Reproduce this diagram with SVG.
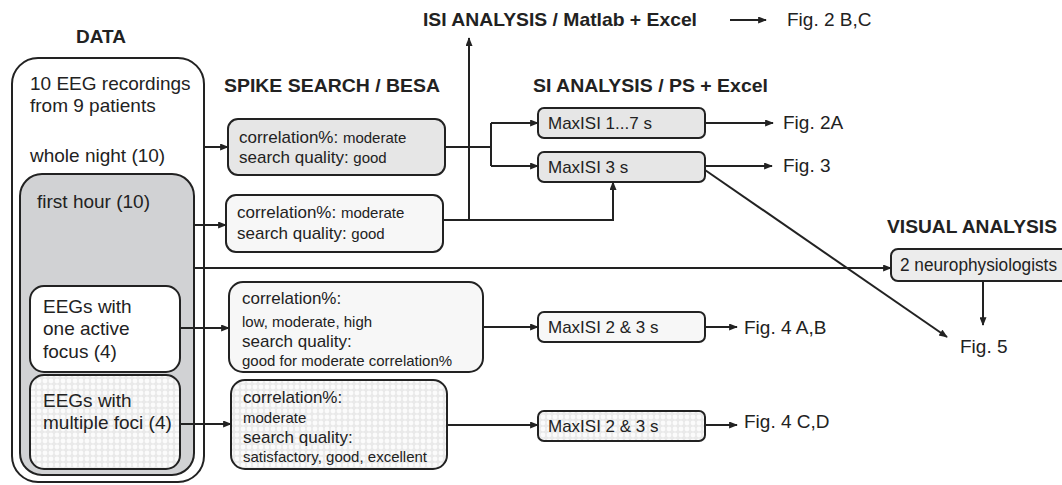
<svg xmlns="http://www.w3.org/2000/svg" width="1062" height="485" viewBox="0 0 1062 485">
<style>
text{font-family:"Liberation Sans",Arial,sans-serif;fill:#222}
.t{font-weight:bold;font-size:19px}
.b{font-size:19px}
.m{font-size:17px}
.s{font-size:15px}
.box{stroke:#222;stroke-width:2}
.ln{fill:none;stroke:#222;stroke-width:2}
.ar{fill:none;stroke:#222;stroke-width:2;marker-end:url(#ah)}
</style>
<defs>
<marker id="ah" viewBox="0 0 10 8" refX="9" refY="4" markerWidth="10" markerHeight="7" markerUnits="userSpaceOnUse" orient="auto"><path d="M0,0L10,4L0,8z" fill="#222"/></marker>
<pattern id="dots" width="6" height="6" patternUnits="userSpaceOnUse"><rect width="6" height="6" fill="#e9e9e9"/><circle cx="3" cy="3" r="2.4" fill="#fbfbfb"/></pattern>
</defs>
<g id="titles">
<text class="t" x="76" y="43" textLength="50" lengthAdjust="spacingAndGlyphs">DATA</text>
<text class="t" x="224" y="92" textLength="216" lengthAdjust="spacingAndGlyphs">SPIKE SEARCH / BESA</text>
<text class="t" x="423" y="26" textLength="274" lengthAdjust="spacingAndGlyphs">ISI ANALYSIS / Matlab + Excel</text>
<text class="t" x="533" y="92" textLength="235" lengthAdjust="spacingAndGlyphs">SI ANALYSIS / PS + Excel</text>
<text class="t" x="887" y="233" textLength="170" lengthAdjust="spacingAndGlyphs">VISUAL ANALYSIS</text>
</g>
<g id="data">
<rect class="box" x="12" y="58" width="192" height="424" rx="26" fill="#fff"/>
<text class="b" x="30" y="90">10 EEG recordings</text>
<text class="b" x="30" y="112">from 9 patients</text>
<text class="b" x="30" y="162">whole night (10)</text>
</g>
<g id="firsthour">
<rect class="box" x="20" y="174" width="174" height="301" rx="22" fill="#d1d2d4"/>
<text class="b" x="37" y="208">first hour (10)</text>
</g>
<g id="onefocus">
<rect class="box" x="30" y="286" width="150" height="86" rx="14" fill="#fff"/>
<text class="b" x="43" y="313">EEGs with</text>
<text class="b" x="43" y="335">one active</text>
<text class="b" x="43" y="358">focus (4)</text>
</g>
<g id="multifoci">
<rect class="box" x="30" y="375" width="150" height="94" rx="14" fill="url(#dots)"/>
<text class="b" x="43" y="407">EEGs with</text>
<text class="b" x="43" y="429">multiple foci (4)</text>
</g>
<g id="search1">
<rect class="box" x="228" y="119" width="217" height="56" rx="10" fill="#e6e6e6"/>
<text x="239" y="143"><tspan class="m">correlation%: </tspan><tspan class="s">moderate</tspan></text>
<text x="239" y="163"><tspan class="m">search quality: </tspan><tspan class="s">good</tspan></text>
</g>
<g id="search2">
<rect class="box" x="226" y="195" width="217" height="57" rx="10" fill="#f7f7f7"/>
<text x="237" y="218"><tspan class="m">correlation%: </tspan><tspan class="s">moderate</tspan></text>
<text x="237" y="239"><tspan class="m">search quality: </tspan><tspan class="s">good</tspan></text>
</g>
<g id="search3">
<rect class="box" x="229" y="282" width="254" height="90" rx="14" fill="#f7f7f7"/>
<text class="m" x="242" y="304">correlation%:</text>
<text class="s" x="242" y="327">low, moderate, high</text>
<text class="m" x="242" y="347">search quality:</text>
<text class="s" x="242" y="366">good for moderate correlation%</text>
</g>
<g id="search4">
<rect class="box" x="231" y="380" width="216" height="89" rx="14" fill="url(#dots)"/>
<text class="m" x="243" y="403">correlation%:</text>
<text class="s" x="243" y="423">moderate</text>
<text class="m" x="243" y="443">search quality:</text>
<text class="s" x="243" y="462">satisfactory, good, excellent</text>
</g>
<g id="maxisi17">
<rect class="box" x="538" y="108" width="167" height="30" rx="6" fill="#e6e6e6"/>
<text class="m" x="548" y="129">MaxISI 1...7 s</text>
</g>
<g id="maxisi3">
<rect class="box" x="538" y="152" width="167" height="30" rx="6" fill="#e6e6e6"/>
<text class="m" x="548" y="173">MaxISI 3 s</text>
</g>
<g id="maxisi23a">
<rect class="box" x="538" y="312" width="167" height="30" rx="6" fill="#f7f7f7"/>
<text class="m" x="548" y="333">MaxISI 2 &amp; 3 s</text>
</g>
<g id="maxisi23b">
<rect class="box" x="538" y="411" width="167" height="30" rx="6" fill="url(#dots)"/>
<text class="m" x="548" y="432">MaxISI 2 &amp; 3 s</text>
</g>
<g id="neuro">
<rect class="box" x="891" y="249" width="190" height="32" rx="7" fill="#ececec"/>
<text x="900" y="271" font-size="18" textLength="157" lengthAdjust="spacingAndGlyphs">2 neurophysiologists</text>
</g>
<g id="figs">
<text class="b" x="787" y="26">Fig. 2 B,C</text>
<text class="b" x="783" y="129">Fig. 2A</text>
<text class="b" x="783" y="172">Fig. 3</text>
<text class="b" x="744" y="334">Fig. 4 A,B</text>
<text class="b" x="744" y="428">Fig. 4 C,D</text>
<text class="b" x="960" y="353">Fig. 5</text>
</g>
<g id="connectors">
<path class="ar" d="M204,147H228"/>
<path class="ar" d="M193,225H226"/>
<path class="ar" d="M180,328H229"/>
<path class="ar" d="M180,424H231"/>
<path class="ar" d="M193,268H891"/>
<path class="ln" d="M445,147H491M491,123V166"/>
<path class="ar" d="M491,123H538"/>
<path class="ar" d="M491,166H538"/>
<path class="ar" d="M469,220V38"/>
<path class="ar" d="M443,220H613V182"/>
<path class="ar" d="M705,123H773"/>
<path class="ar" d="M705,166H772"/>
<path class="ar" d="M730,20H766"/>
<path class="ar" d="M705,170L947,337"/>
<path class="ar" d="M983,281V325"/>
<path class="ar" d="M483,327H538"/>
<path class="ar" d="M705,327H737"/>
<path class="ar" d="M447,425H538"/>
<path class="ar" d="M705,425H737"/>
</g>
</svg>
